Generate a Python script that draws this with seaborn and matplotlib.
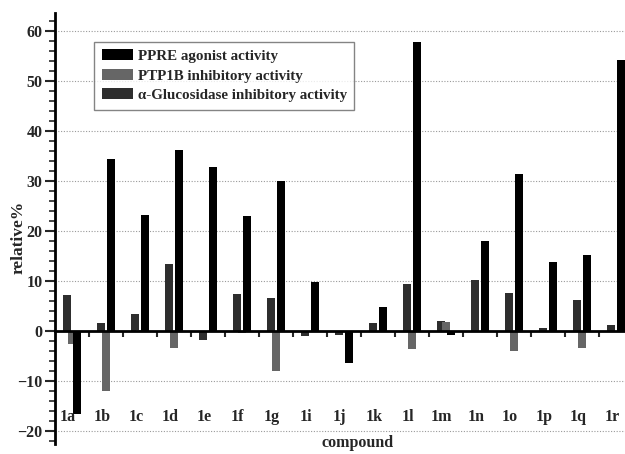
import numpy as np
import pandas as pd
import matplotlib
matplotlib.use("Agg")
import matplotlib.pyplot as plt
import seaborn as sns
from matplotlib.ticker import MultipleLocator
from matplotlib.patches import Patch

compounds = ["1a", "1b", "1c", "1d", "1e", "1f", "1g", "1i", "1j", "1k",
             "1l", "1m", "1n", "1o", "1p", "1q", "1r"]
ppre = [-16.5, 34.3, 23.2, 36.1, 32.8, 23.0, 29.9, 9.8, -6.4, 4.9,
        57.7, -0.8, 18.1, 31.4, 13.9, 15.2, 54.2]
ptp1b = [-2.6, -11.9, 0.2, -3.4, 0.0, -0.3, -8.0, 0.0, 0.0, 0.0,
         -3.6, 1.9, 0.0, -4.0, 0.0, -3.3, 0.0]
glucosidase = [7.2, 1.6, 3.5, 13.5, -1.8, 7.5, 6.6, -1.0, -0.8, 1.7,
               9.4, 2.0, 10.3, 7.7, 0.6, 6.3, 1.2]
series_names = ["PPRE agonist activity", "PTP1B inhibitory activity",
                "\u03b1-Glucosidase inhibitory activity"]

sns.set_style("white")
plt.rcParams["font.family"] = ["Liberation Serif", "DejaVu Serif"]
plt.rcParams["font.weight"] = "bold"

fig = plt.figure(figsize=(6.25, 4.54), dpi=100)
W, H = 625, 454
left, right, top, bottom = 55, 625, 13, 444
ax = fig.add_axes([left / W, 1 - bottom / H, (right - left) / W, (bottom - top) / H])

colors = {"glu": "#2e2e2e", "ptp": "#666666", "ppre": "#000000"}
idx = np.arange(len(compounds))
bar_w = 0.235
# draw order: glucosidase, ptp1b, ppre (on top)
for vals, off, col in [(glucosidase, -0.14, colors["glu"]),
                       (ptp1b, 0.0, colors["ptp"]),
                       (ppre, 0.14, colors["ppre"])]:
    df = pd.DataFrame({"x": idx + off, "y": vals})
    sns.barplot(data=df, x="x", y="y", native_scale=True, width=bar_w,
                color=col, saturation=1, errorbar=None, ax=ax,
                linewidth=0, zorder=3)

ax.set_xlim(-0.5, (right - 72) / 34.0)
ax.set_ylim(-22.5, 63.5)

# grid
for g in [-20, -10, 10, 20, 30, 40, 50, 60]:
    ax.axhline(g, color="#9a9a9a", lw=0.8, ls=(0, (1, 1.5)), zorder=1)

# spines
for s in ["top", "right"]:
    ax.spines[s].set_visible(False)
ax.spines["left"].set_linewidth(2)
ax.spines["left"].set_color("black")
ax.spines["bottom"].set_position(("data", 0))
ax.spines["bottom"].set_linewidth(2)
ax.spines["bottom"].set_color("black")
ax.spines["bottom"].set_zorder(4)

ax.yaxis.set_major_locator(MultipleLocator(10))
ax.yaxis.set_minor_locator(MultipleLocator(2))
ax.tick_params(axis="y", which="major", direction="out", length=7, width=1.5,
               labelsize=11.5, pad=2, left=True)
ax.tick_params(axis="y", which="minor", direction="out", length=4, width=1.2, left=True)
for lab in ax.get_yticklabels():
    lab.set_fontweight("bold")

ax.set_xticks(idx[:-1] + 0.5)
ax.set_xticklabels([])
ax.tick_params(axis="x", which="major", direction="out", length=4, width=1.5,
               bottom=True)
ax.xaxis.set_minor_locator(matplotlib.ticker.NullLocator())

for i, c in enumerate(compounds):
    ax.text(i - 0.12, -17.2, c, ha="center", va="center", fontsize=11.5,
            fontweight="bold", zorder=5)

ax.set_xlabel("compound", fontsize=11.5, fontweight="bold")
ax.xaxis.set_label_coords(0.53, 0.02)
ax.set_ylabel("relative%", fontsize=12.5, fontweight="bold")
ax.yaxis.set_label_coords(-0.05, 0.48)

handles = [Patch(facecolor=colors["ppre"], edgecolor="none"),
           Patch(facecolor=colors["ptp"], edgecolor="none"),
           Patch(facecolor=colors["glu"], edgecolor="none")]
leg = ax.legend(handles, series_names, loc="upper left",
                bbox_to_anchor=((94 - left) / (right - left), (bottom - 42) / (bottom - top)),
                borderaxespad=0, frameon=True, fancybox=False,
                prop={"weight": "bold", "size": 10.8},
                handlelength=2.1, handleheight=0.75, handletextpad=0.3,
                labelspacing=0.38, borderpad=0.5)
leg.get_frame().set_edgecolor("#666666")
leg.get_frame().set_linewidth(1.0)
leg.set_zorder(6)

fig.savefig("out.png", dpi=100)
